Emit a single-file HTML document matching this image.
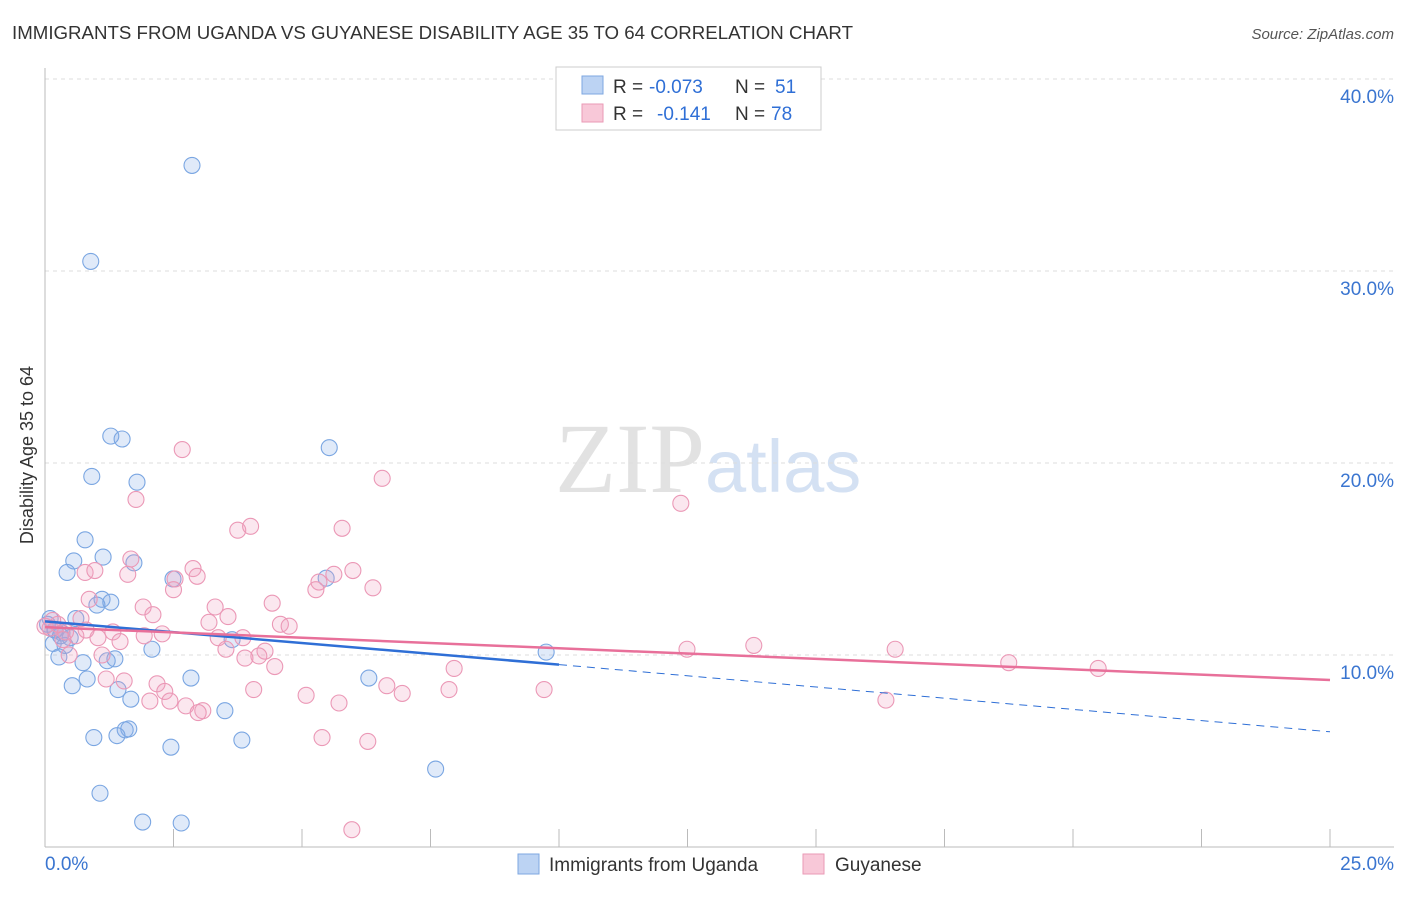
<!DOCTYPE html>
<html><head><meta charset="utf-8"><style>
body{margin:0;background:#fff;font-family:"Liberation Sans",sans-serif;}
</style></head><body>
<svg id="chart" width="1406" height="892" viewBox="0 0 1406 892" xmlns="http://www.w3.org/2000/svg" font-family="Liberation Sans, sans-serif">
<text x="12" y="39" font-size="18" fill="#333" textLength="841" lengthAdjust="spacingAndGlyphs">IMMIGRANTS FROM UGANDA VS GUYANESE DISABILITY AGE 35 TO 64 CORRELATION CHART</text>
<text x="1394" y="39" font-size="15" fill="#555" font-style="italic" text-anchor="end">Source: ZipAtlas.com</text>
<text x="555" y="492" font-size="100" fill="#e2e2e2" font-family="Liberation Serif, serif">ZIP<tspan fill="#d4e1f3" font-family="Liberation Sans, sans-serif" font-size="74">atlas</tspan></text>
<text transform="translate(33,455) rotate(-90)" font-size="18" fill="#333" text-anchor="middle">Disability Age 35 to 64</text>
<g id="grid"></g><g id="axes"></g><g id="marks"></g>
<g>
<rect x="556" y="67" width="265" height="63" fill="#fff" stroke="#ccc"/>
<rect x="582" y="76" width="21" height="18" fill="#bcd3f3" stroke="#7ea7e0"/>
<rect x="582" y="104" width="21" height="18" fill="#f8c8d8" stroke="#ea9ab6"/>
<text x="613" y="93" font-size="19" fill="#333">R =</text>
<text x="649" y="93" font-size="19" fill="#2f6fd6">-0.073</text>
<text x="735" y="93" font-size="19" fill="#333">N =</text>
<text x="775" y="93" font-size="19" fill="#2f6fd6">51</text>
<text x="613" y="120" font-size="19" fill="#333">R =</text>
<text x="657" y="120" font-size="19" fill="#2f6fd6">-0.141</text>
<text x="735" y="120" font-size="19" fill="#333">N =</text>
<text x="771" y="120" font-size="19" fill="#2f6fd6">78</text>
</g>
<g>
<rect x="518" y="854" width="21" height="20" fill="#bcd3f3" stroke="#7ea7e0"/>
<text x="549" y="871" font-size="19" fill="#333">Immigrants from Uganda</text>
<rect x="803" y="854" width="21" height="20" fill="#f8c8d8" stroke="#ea9ab6"/>
<text x="835" y="871" font-size="19" fill="#333">Guyanese</text>
</g>
</svg>
<script>
const yTicks=[10,20,30,40];
const yTickLabels=["10.0%","20.0%","30.0%","40.0%"];
const xEndLabels=["0.0%","25.0%"];
const blueX=[0.89,2.86,1.28,1.5,5.53,0.91,1.79,0.78,0.56,1.13,1.73,0.43,2.49,5.47,1.11,1.28,1.01,0.6,0.1,0.19,0.33,0.49,0.16,0.39,3.64,2.08,0.27,0.74,1.21,1.36,9.75,2.84,0.82,0.53,1.42,6.3,1.67,3.5,1.56,1.63,1.4,0.95,3.83,2.45,7.6,1.07,1.9,2.65,0.05,0.3,0.2];
const blueY=[30.5,35.5,21.4,21.25,20.8,19.3,19.0,16.0,14.9,15.1,14.8,14.3,13.96,14.0,12.9,12.75,12.6,11.9,11.9,11.3,11.15,10.9,10.6,10.5,10.8,10.3,9.9,9.6,9.7,9.8,10.15,8.8,8.75,8.4,8.2,8.8,7.7,7.1,6.1,6.15,5.8,5.7,5.57,5.2,4.06,2.8,1.3,1.25,11.6,11.0,11.3];
const pinkX=[2.67,6.56,12.37,1.77,3.75,4.0,5.78,1.67,2.88,2.96,1.61,0.78,0.97,2.53,5.62,5.99,5.33,6.38,5.27,2.5,0.86,4.42,1.91,3.31,2.1,3.56,3.19,4.58,4.75,0.7,1.32,2.28,1.93,1.03,1.46,3.37,3.85,3.52,4.28,4.16,3.89,4.47,1.11,12.49,13.79,16.54,18.75,20.49,7.96,0.47,1.19,1.54,2.18,2.33,6.65,6.95,7.86,9.71,4.06,5.08,2.04,2.43,2.74,3.07,2.98,5.72,16.36,5.39,6.28,5.97,0.1,0.25,0.0,0.4,0.6,0.15,0.35,0.8];
const pinkY=[20.7,19.2,17.9,18.1,16.5,16.7,16.6,15.0,14.5,14.1,14.2,14.3,14.4,13.96,14.2,14.4,13.8,13.5,13.4,13.4,12.9,12.7,12.5,12.5,12.1,12.0,11.7,11.6,11.5,11.9,11.2,11.1,11.0,10.9,10.7,10.9,10.9,10.3,10.2,9.95,9.84,9.4,10.0,10.3,10.5,10.3,9.6,9.3,9.3,10.0,8.75,8.65,8.5,8.1,8.4,8.0,8.2,8.2,8.2,7.9,7.6,7.6,7.35,7.1,7.0,7.5,7.65,5.7,5.5,0.9,11.4,11.6,11.5,11.2,11.0,11.8,10.8,11.3];
const blueTrend=[[0,11.75],[10,9.5],[25,6.0]];
const pinkTrend=[[0,11.45],[25,8.7]];
const X=v=>45+v*(1330-45)/25;
const Y=v=>847-v*19.2;
const NS="http://www.w3.org/2000/svg";
function mk(p,t,a){const e=document.createElementNS(NS,t);for(const k in a)e.setAttribute(k,a[k]);p.appendChild(e);return e;}
const grid=document.getElementById('grid'),axes=document.getElementById('axes'),marks=document.getElementById('marks');
yTicks.forEach((t,i)=>{
 const l=mk(grid,'line',{x1:45,x2:1394,y1:Y(t),y2:Y(t),stroke:'#ddd','stroke-dasharray':'4,4'});
 
 
 const tx=mk(axes,'text',{x:1394,y:Y(t)+24,'font-size':19,fill:'#3a75d0','text-anchor':'end'});
 tx.textContent=yTickLabels[i];
 
 
});
const ax=mk(axes,'line',{x1:45,x2:1394,y1:847,y2:847,stroke:'#bbb'});


const ay=mk(axes,'line',{x1:45,x2:45,y1:68,y2:847,stroke:'#bbb'});


for(let i=1;i<=10;i++){const t=mk(axes,'line',{x1:X(i*2.5),x2:X(i*2.5),y1:829,y2:847,stroke:'#bbb'});
 
 }
[[0,xEndLabels[0],'start',45],[25,xEndLabels[1],'end',1394]].forEach(a=>{const t=mk(axes,'text',{x:a[3],y:870,'font-size':19,fill:'#3a75d0','text-anchor':a[2]});t.textContent=a[1];
 
 });
function dots(xs,ys,fill,stroke,name){xs.forEach((x,i)=>{const c=mk(marks,'circle',{cx:X(x),cy:Y(ys[i]),r:8,fill:fill,stroke:stroke,'stroke-width':1.1});
 
 });}
dots(blueX,blueY,'rgba(130,170,230,0.25)','#7aa6e2','uganda-point');
dots(pinkX,pinkY,'rgba(240,160,190,0.25)','#eb98b6','guyanese-point');
const b1=mk(marks,'line',{x1:X(blueTrend[0][0]),y1:Y(blueTrend[0][1]),x2:X(blueTrend[1][0]),y2:Y(blueTrend[1][1]),stroke:'#2f6fd6','stroke-width':2.5});


const b2=mk(marks,'line',{x1:X(blueTrend[1][0]),y1:Y(blueTrend[1][1]),x2:X(blueTrend[2][0]),y2:Y(blueTrend[2][1]),stroke:'#2f6fd6','stroke-width':1,'stroke-dasharray':'8,6'});


const p1=mk(marks,'line',{x1:X(pinkTrend[0][0]),y1:Y(pinkTrend[0][1]),x2:X(pinkTrend[1][0]),y2:Y(pinkTrend[1][1]),stroke:'#e8709a','stroke-width':2.5});


</script>
</body></html>
